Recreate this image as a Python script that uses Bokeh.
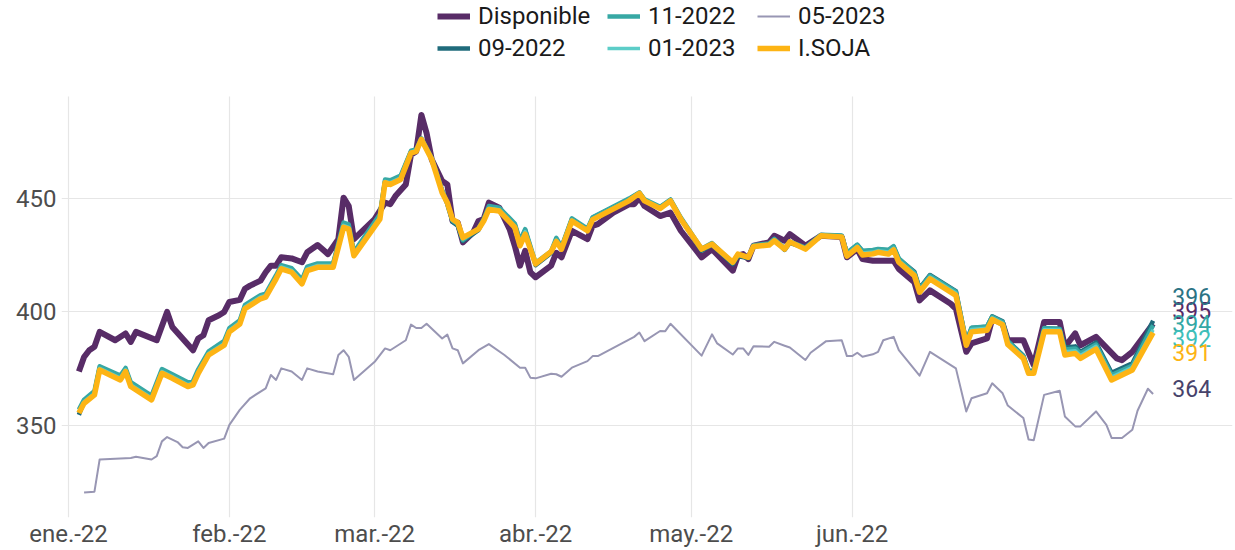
import pandas as pd
from bokeh.plotting import figure
from bokeh.models import (Range1d, FixedTicker, CustomJSTickFormatter, Legend,
                          LegendItem, ColumnDataSource)
from bokeh.core.properties import value
from bokeh.embed import file_html
from bokeh.resources import INLINE

# ---------------- data (day offsets from 2022-01-01) ----------------
disp_day = [2, 3, 4, 5, 6, 9, 11, 12, 13, 17, 19, 20, 24, 25, 26, 27, 29, 30, 31, 33,
            34, 35, 37, 38, 39, 40, 41, 43, 45, 46, 48, 50, 52, 53, 54, 55, 57, 59, 61, 62,
            63, 65, 66, 67, 68, 69, 70, 72, 73, 74, 75, 76, 78, 79, 80, 81, 83, 85, 86, 87,
            88, 89, 90, 93, 94, 95, 97, 100, 101, 102, 105, 108, 109, 110, 111, 114, 116, 118, 122, 124,
            128, 129, 130, 131, 132, 135, 136, 138, 139, 142, 145, 149, 150, 152, 153, 155, 159, 160, 163, 164,
            166, 170, 171, 173, 174, 177, 178, 180, 181, 184, 186, 188, 191, 192, 194, 195, 198, 202, 203, 205,
            209]
disponible = [373.6, 380.0, 383.0, 384.5, 391.1, 387.4, 390.4, 386.7, 391.1, 387.4, 399.9, 393.3, 383.0, 388.2, 389.6, 396.2, 398.4, 399.9, 404.3, 405.2,
              410.1, 411.5, 413.7, 417.4, 420.3, 420.3, 424.0, 423.5, 421.8, 426.2, 429.4, 425.4, 432.0, 450.3, 446.6, 432.0, 436.4, 440.8, 448.1, 447.4,
              451.0, 456.1, 469.3, 470.7, 486.8, 478.8, 467.1, 457.6, 456.1, 440.0, 439.3, 430.6, 435.0, 440.0, 440.8, 448.1, 445.9, 436.4, 429.1, 420.3,
              426.9, 417.4, 415.2, 420.3, 426.0, 424.0, 435.7, 432.0, 437.9, 438.6, 443.7, 447.4, 447.4, 450.3, 446.6, 442.2, 443.7, 435.7, 424.0, 427.6,
              418.1, 424.7, 425.4, 423.2, 429.1, 430.6, 433.5, 431.3, 434.2, 429.1, 433.5, 433.0, 424.0, 427.6, 423.2, 422.5, 422.5, 418.9, 413.0, 405.0,
              409.4, 403.5, 401.3, 382.3, 386.0, 388.2, 396.9, 394.7, 387.4, 387.4, 376.4, 395.5, 395.5, 384.5, 390.4, 385.2, 388.9, 379.4, 378.6, 382.3,
              394.7]

fut_day = [2, 3, 5, 6, 10, 11, 12, 16, 18, 20, 23, 24, 25, 27, 30, 31,
           33, 34, 37, 38, 40, 41, 43, 45, 46, 48, 51, 53, 54, 55,
           60, 61, 62, 64, 66, 67, 68, 70,
           72, 73, 74, 75, 76, 79, 80, 81, 83, 86, 87, 88, 90, 93, 94, 95, 97, 100, 101,
           108, 110, 111, 114, 116, 118, 122, 124, 128, 129, 131, 132, 135, 136, 138, 139, 142, 145, 149, 150, 152, 153, 155, 156, 158, 159, 160,
           163, 164, 166, 171, 173, 174, 177, 178, 180, 181, 184, 185, 186, 188, 191, 192, 194, 195, 198, 201, 205, 209]

isoja = [355.3, 359.6, 363.3, 374.3, 369.9, 373.6, 367.0, 361.1, 372.8, 370.6, 367.0, 367.7, 372.8, 380.9, 385.2, 391.1,
         394.5, 401.3, 405.7, 406.4, 414.5, 418.9, 417.4, 412.3, 418.1, 419.6, 419.6, 437.2, 436.4, 424.7,
         440.8, 456.9, 456.1, 458.3, 470.0, 470.7, 476.0, 467.1,
         452.5, 448.1, 440.8, 439.3, 432.7, 436.4, 440.0, 445.1, 444.4, 437.2, 429.1, 434.2, 421.1, 426.5, 431.0, 427.6, 440.0, 435.7, 440.6,
         448.9, 452.2, 448.9, 445.5, 448.9, 440.8, 427.6, 429.8, 421.8, 425.4, 424.0, 428.8, 429.4, 431.3, 427.6, 430.8, 427.6, 433.5, 433.0, 424.5, 428.3, 425.0, 425.5, 426.2, 425.4, 427.3, 421.8,
         415.9, 408.6, 414.5, 407.2, 385.2, 391.1, 391.8, 396.6, 394.3, 385.5, 379.4, 372.8, 372.8, 391.1, 391.1, 380.9, 381.6, 379.4, 383.5, 369.9, 374.3, 390.8]

f_09_2022 = [354.5, 360.4, 364.2, 375.2, 370.9, 374.5, 368.0, 362.1, 373.9, 371.6, 368.0, 368.7, 373.7, 381.5, 386.2, 392.0,
             395.5, 402.3, 406.5, 407.2, 415.3, 419.8, 418.5, 413.5, 419.2, 420.8, 420.9, 438.5, 437.6, 425.8,
             442.3, 457.6, 457.4, 459.4, 470.6, 471.3, 476.2, 467.5,
             453.3, 447.4, 439.6, 437.9, 431.2, 436.0, 440.5, 446.2, 445.6, 438.4, 430.6, 436.0, 420.5, 425.9, 432.0, 428.1, 440.8, 436.1, 441.4,
             449.6, 452.4, 449.2, 446.0, 449.2, 441.0, 426.9, 429.5, 421.0, 424.6, 423.6, 428.6, 429.8, 431.8, 427.3, 430.4, 428.0, 433.6, 433.4, 425.6, 429.4, 426.6, 426.9, 427.4, 427.0, 428.6, 423.2,
             417.6, 410.3, 416.2, 409.1, 386.6, 392.8, 393.4, 398.0, 395.8, 387.1, 380.6, 373.9, 374.0, 392.6, 392.5, 384.2, 384.7, 382.3, 386.4, 373.0, 377.2, 396.0]

f_11_2022 = [356.8, 361.2, 365.0, 375.9, 371.8, 375.2, 368.9, 363.0, 374.7, 372.4, 368.9, 369.5, 374.6, 382.5, 387.1, 392.8,
             396.2, 403.0, 407.3, 408.0, 416.1, 420.5, 419.2, 414.2, 419.9, 421.3, 421.3, 439.3, 438.5, 426.3,
             443.0, 458.3, 458.0, 460.0, 471.0, 471.6, 476.5, 467.8,
             453.6, 447.9, 440.2, 438.6, 431.6, 436.8, 440.9, 446.6, 445.9, 438.9, 431.3, 436.4, 421.6, 426.6, 432.6, 428.5, 441.2, 436.6, 441.7,
             449.9, 452.6, 449.6, 446.3, 449.5, 441.5, 427.8, 430.3, 421.5, 425.1, 424.2, 429.3, 430.1, 432.1, 427.9, 430.9, 428.3, 433.9, 433.6, 426.0, 429.6, 426.9, 427.2, 427.7, 427.3, 428.9, 423.5,
             417.2, 410.0, 415.9, 408.8, 386.5, 392.9, 393.5, 397.8, 395.5, 387.0, 380.4, 373.6, 373.6, 392.8, 392.4, 383.3, 383.8, 381.6, 385.5, 372.1, 376.2, 394.0]

f_01_2023 = [356.0, 360.3, 364.0, 375.0, 370.7, 374.4, 367.8, 361.9, 373.6, 371.4, 367.8, 368.5, 373.6, 381.6, 386.0, 391.9,
             395.3, 402.1, 406.5, 407.2, 415.3, 419.7, 418.2, 413.1, 418.9, 420.4, 420.4, 438.1, 437.2, 425.5,
             441.7, 457.5, 456.9, 459.0, 470.5, 471.2, 476.1, 467.4,
             453.0, 447.8, 440.4, 438.9, 432.1, 436.6, 440.4, 445.6, 445.0, 437.8, 429.9, 435.3, 421.0, 426.3, 431.6, 428.0, 440.5, 436.0, 441.0,
             449.3, 452.5, 449.3, 445.9, 449.2, 441.2, 427.4, 429.9, 421.5, 425.2, 424.1, 428.9, 429.7, 431.6, 427.6, 430.7, 427.9, 433.7, 433.2, 425.2, 428.9, 425.9, 426.3, 426.9, 426.3, 428.0, 422.6,
             416.7, 409.4, 415.3, 408.2, 385.9, 392.2, 392.7, 397.3, 395.0, 386.4, 380.0, 373.3, 373.4, 392.0, 391.9, 382.3, 382.8, 380.7, 384.7, 371.2, 375.5, 392.0]

may_day = [3, 5, 6, 12, 13, 16, 17, 18, 19, 21, 22, 23, 25, 26, 27, 30, 31, 33, 35, 38,
           39, 40, 41, 43, 45, 46, 48, 51, 52, 53, 54, 55, 59, 61, 62, 65, 66, 67, 68, 69,
           72, 73, 74, 75, 76, 79, 81, 84, 87, 88, 89, 90, 93, 94, 95, 97, 100, 101, 102, 109,
           110, 111, 114, 115, 116, 122, 124, 125, 128, 129, 130, 131, 132, 135, 136, 138, 139, 142, 143, 146,
           149, 150, 151, 152, 153, 155, 156, 157, 159, 160, 164, 166, 171, 173, 174, 177, 178, 180, 181, 184,
           185, 186, 188, 191, 192, 194, 195, 198, 200, 201, 203, 205, 206, 208, 209]
f_05_2023 = [320.2, 320.6, 334.8, 335.5, 336.0, 334.8, 336.3, 342.8, 344.7, 342.5, 340.2, 339.9, 342.8, 339.9, 342.1, 344.0, 350.1, 356.7, 361.8, 366.2,
             372.1, 369.9, 375.0, 373.6, 369.9, 375.0, 373.6, 372.4, 380.9, 383.0, 380.1, 369.9, 377.9, 383.8, 383.0, 387.4, 394.3, 392.8, 392.8, 394.7,
             388.2, 389.9, 383.8, 383.0, 377.2, 383.0, 385.7, 380.9, 375.3, 375.3, 370.9, 370.6, 372.6, 372.4, 371.3, 375.3, 378.2, 380.4, 380.4, 388.9,
             390.8, 387.0, 391.5, 391.4, 394.7, 380.6, 390.0, 386.0, 381.1, 383.8, 383.8, 380.9, 384.8, 384.5, 386.7, 385.0, 384.2, 378.7, 381.9, 387.0,
             387.4, 380.4, 380.4, 381.9, 380.1, 381.2, 382.3, 387.4, 388.9, 383.0, 371.8, 382.3, 375.0, 356.0, 361.8, 364.0, 368.4, 364.0, 358.6, 353.1,
             343.6, 343.3, 363.3, 365.1, 353.8, 349.4, 349.4, 356.0, 350.1, 344.3, 344.3, 347.9, 356.3, 366.0, 363.7]

month_starts = ["2022-01-01", "2022-02-01", "2022-03-01", "2022-04-01", "2022-05-01", "2022-06-01"]
month_labels = ["ene.-22", "feb.-22", "mar.-22", "abr.-22", "may.-22", "jun.-22"]
y_ticks = [350, 400, 450]

# ---------------- styling / layout ----------------
BASE = pd.Timestamp("2022-01-01")
FONT = "Roboto"
series = [
    ("Disponible", disp_day, disponible, "#582c67", 6.0, "#582c67"),
    ("09-2022", fut_day, f_09_2022, "#1f6b7b", 4.5, "#2b7384"),
    ("11-2022", fut_day, f_11_2022, "#37a8a4", 4.5, "#33a8a5"),
    ("01-2023", fut_day, f_01_2023, "#5ccdc8", 3.5, "#3fbfba"),
    ("05-2023", may_day, f_05_2023, "#9896b3", 2.0, "#47436b"),
    ("I.SOJA", fut_day, isoja, "#fdb414", 5.5, "#fdb414"),
]
label_pos = {"09-2022": 406.9, "Disponible": 400.4, "11-2022": 394.6,
             "01-2023": 388.3, "I.SOJA": 381.8, "05-2023": 366.0}
LABEL_DAY = 212.7
legend_cols = [["Disponible", "09-2022"], ["11-2022", "01-2023"], ["05-2023", "I.SOJA"]]
legend_x = [376, 546, 696]

FIG_W, FIG_H = 1235, 550
LEFT, RIGHT, BOTTOM = 61, 3, 30
FRAME_BOTTOM = FIG_H - BOTTOM          # 520
GRID_TOP_PX = 97
PX_PER_UNIT = 2.28
Y_REF_PX, Y_REF_VAL = 427, 350
y_lo = Y_REF_VAL - (FRAME_BOTTOM - Y_REF_PX) / PX_PER_UNIT
y_hi = Y_REF_VAL + (Y_REF_PX - 0) / PX_PER_UNIT
y_grid_top = Y_REF_VAL + (Y_REF_PX - GRID_TOP_PX) / PX_PER_UNIT


def ms(ts):
    return ts.value / 1e6


x_start = ms(BASE - pd.Timedelta(days=1.35))
x_end = ms(BASE + pd.Timedelta(days=224.3))

p = figure(width=FIG_W, height=FIG_H, x_axis_type="datetime",
           x_range=Range1d(x_start, x_end), y_range=Range1d(y_lo, y_hi),
           output_backend="svg", toolbar_location=None,
           min_border_left=LEFT, min_border_right=RIGHT, min_border_top=0, min_border_bottom=BOTTOM)
p.outline_line_color = None
p.background_fill_color = "white"
p.border_fill_color = "white"

renderers = {}
for name, days, vals, col, w, lcol in series:
    dates = (BASE + pd.to_timedelta(days, unit="D")).to_numpy()
    src = ColumnDataSource(dict(x=dates, y=vals))
    r = p.line("x", "y", source=src, line_color=col, line_width=w, line_join="round")
    renderers[name] = r
    lx = (BASE + pd.Timedelta(days=LABEL_DAY)).to_datetime64()
    p.text(x=[lx], y=[label_pos[name]], text=[str(int(round(vals[-1])))],
           text_color=lcol, text_font=value(FONT), text_font_size="23px",
           text_align="left", text_baseline="middle")

# axes
tick_ms = [ms(pd.Timestamp(s)) for s in month_starts]
p.xaxis.ticker = FixedTicker(ticks=tick_ms)
p.xaxis.formatter = CustomJSTickFormatter(args=dict(labels=month_labels),
                                          code="const d = new Date(tick); return labels[d.getUTCMonth()];")
p.yaxis.ticker = FixedTicker(ticks=y_ticks)
for ax in (p.xaxis, p.yaxis):
    ax.axis_line_color = None
    ax.major_tick_line_color = None
    ax.minor_tick_line_color = None
    ax.major_tick_in = 0
    ax.major_tick_out = 0
    ax.minor_tick_out = 0
    ax.major_label_text_font = FONT
    ax.major_label_text_font_size = "24px"
    ax.major_label_text_color = "#4d4d4d"
p.xaxis.major_label_standoff = 2
p.yaxis.major_label_standoff = 5

p.xgrid.grid_line_color = "#e6e6e6"
p.ygrid.grid_line_color = "#e6e6e6"
p.xgrid.grid_line_width = 1.2
p.ygrid.grid_line_width = 1.2
try:
    p.xgrid.cross_bounds = (y_lo, y_grid_top)
except Exception:
    pass

for col_names, lx in zip(legend_cols, legend_x):
    leg = Legend(items=[LegendItem(label=n, renderers=[renderers[n]]) for n in col_names],
                 orientation="vertical",
                 label_text_font=FONT, label_text_font_size="24px", label_text_color="#1a1a1a",
                 glyph_width=33, glyph_height=28, label_height=28, label_standoff=8,
                 spacing=4, padding=0, margin=0, border_line_color=None,
                 background_fill_alpha=0, location=(lx, FRAME_BOTTOM - 65))
    p.add_layout(leg)

open("out.html", "w").write(file_html(p, INLINE))
